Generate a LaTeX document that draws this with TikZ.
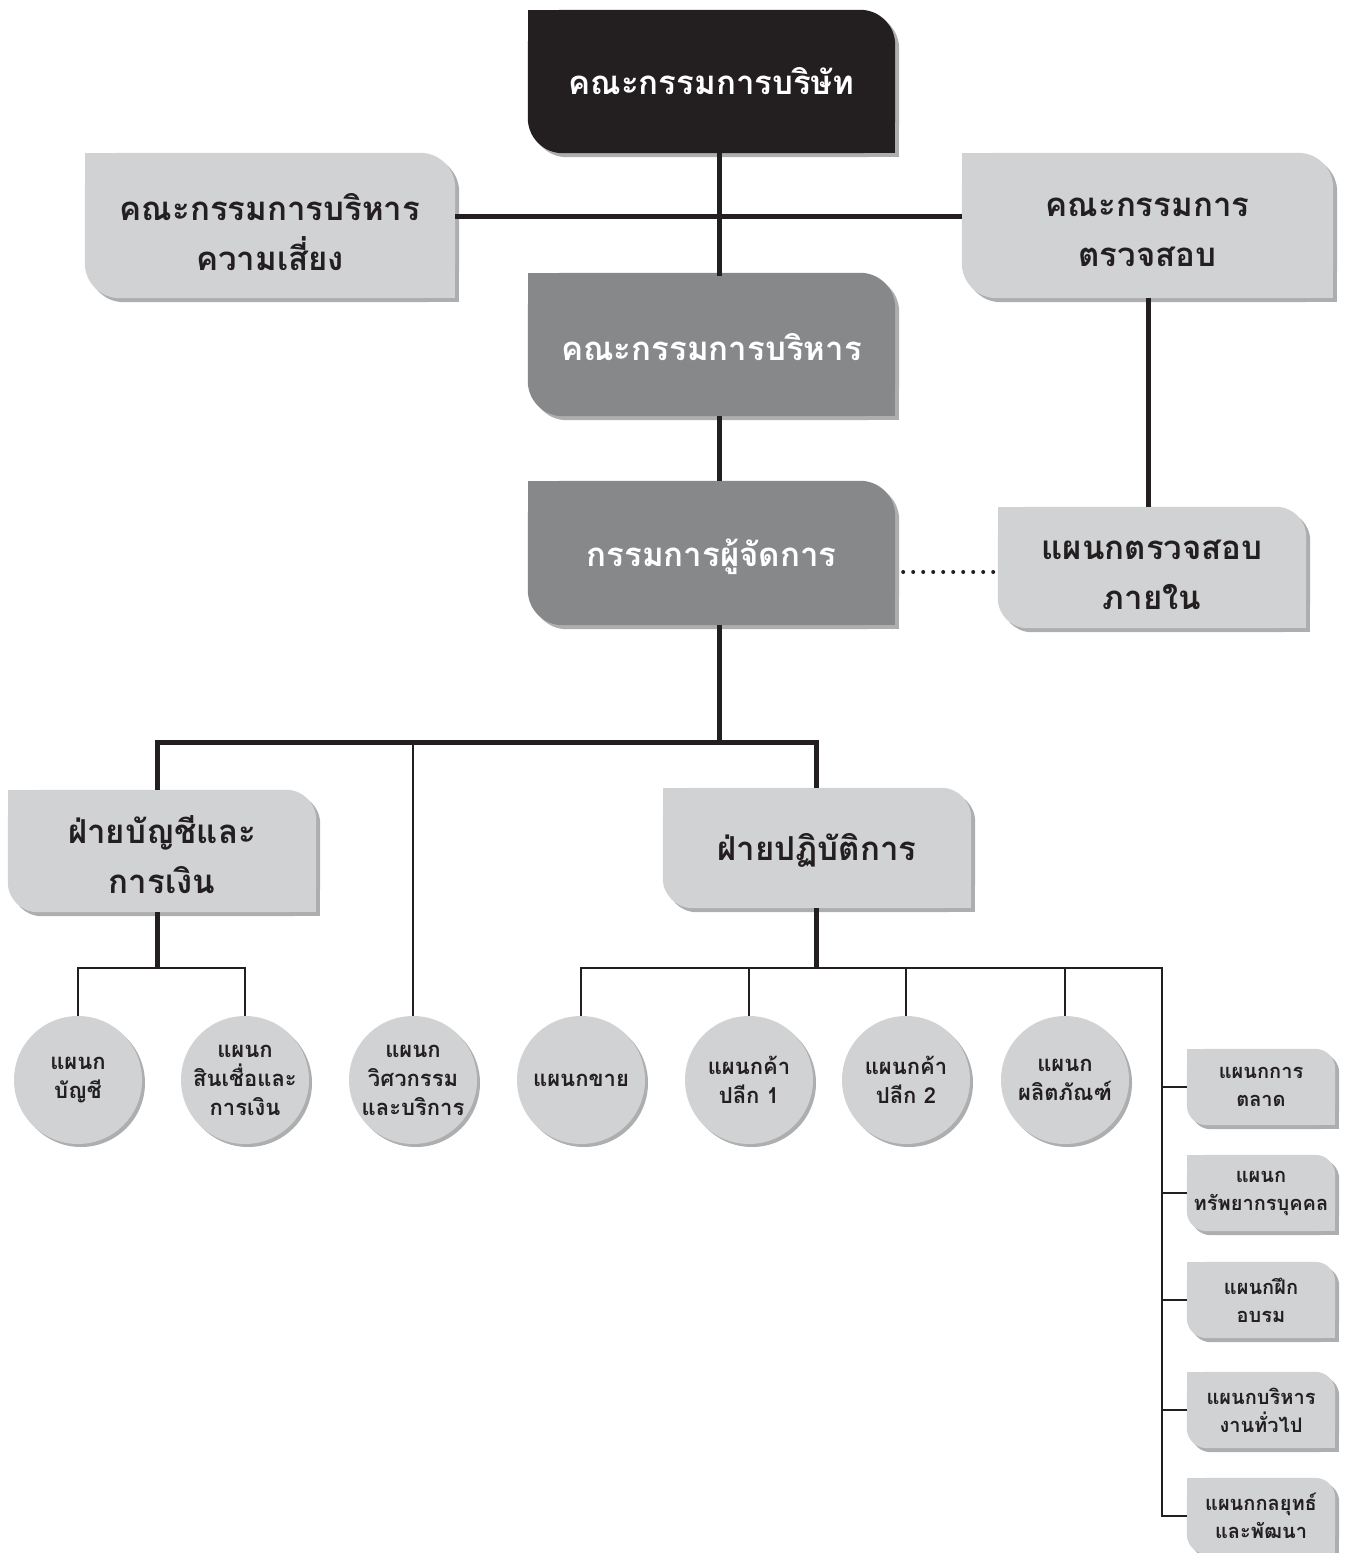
\documentclass[tikz,border=0pt]{standalone}
\usepackage{fontspec}
\newfontfamily\thai[Script=Thai]{Loma}
\usetikzlibrary{calc}
\definecolor{blk}{HTML}{231F20}
\definecolor{dgray}{HTML}{87888A}
\definecolor{lgray}{HTML}{D1D2D4}
\definecolor{shd}{HTML}{ADAEB0}
\pgfdeclarelayer{bg}
\pgfsetlayers{bg,main}
% background of a box: rounded top-right and bottom-left corners, with shadow
% #1 node, #2 colour, #3 corner radius, #4 upward offset of the box relative to the node
\newcommand\boxbg[4]{%
  \begin{pgfonlayer}{bg}
    \fill[shd,rounded corners=#3pt] ([shift={(4,4-#4)}]#1.north west) rectangle ([shift={(4,4-#4)}]#1.south east);
    \fill[shd] ([shift={(4,4-#4)}]#1.north west) rectangle ++(#3,#3);
    \fill[shd] ([shift={(4,4-#4)}]#1.south east) rectangle ++(-#3,-#3);
    \fill[#2,rounded corners=#3pt] ([yshift=#4pt]#1.north west) rectangle ([yshift=#4pt]#1.south east);
    \fill[#2] ([yshift=#4pt]#1.north west) rectangle ++(#3,#3);
    \fill[#2] ([yshift=#4pt]#1.south east) rectangle ++(-#3,-#3);
  \end{pgfonlayer}}
\newcommand\circbg[1]{%
  \begin{pgfonlayer}{bg}
    \fill[shd] ([shift={(3,3)}]#1.center) circle (64pt);
    \fill[lgray] (#1.center) circle (64pt);
  \end{pgfonlayer}}
\tikzset{
  bigtxt/.style={inner sep=0pt, align=center, font=\thai\bfseries\fontsize{33}{50}\selectfont},
  midtxt/.style={inner sep=0pt, align=center, font=\thai\bfseries\fontsize{22}{29}\selectfont},
  smalltxt/.style={inner sep=0pt, align=center, font=\thai\bfseries\fontsize{20}{28}\selectfont},
  heavy/.style={draw=blk, line width=5pt},
  lite/.style={draw=blk, line width=2pt},
  dotline/.style={draw=blk, line width=4pt, line cap=round, dash pattern=on 0pt off 10pt},
}
\begin{document}
\begin{tikzpicture}[x=1pt,y=-1pt]
\useasboundingbox (0,0) rectangle (1346,1553);
% main boxes (node centre = text centre; box drawn with an offset)
\node[bigtxt, text=white, minimum width=367pt, minimum height=143pt] (top) at (711.5,81.5) {คณะกรรมการบริษัท};
\boxbg{top}{blk}{35}{0}
\node[bigtxt, text=blk, minimum width=370pt, minimum height=145pt] (risk) at (270,232.5) {คณะกรรมการบริหาร\\ความเสี่ยง};
\boxbg{risk}{lgray}{35}{7}
\node[bigtxt, text=blk, minimum width=371pt, minimum height=145pt] (audit) at (1147.5,232.5) {คณะกรรมการ\\ตรวจสอบ};
\boxbg{audit}{lgray}{35}{7}
\node[bigtxt, text=white, minimum width=367pt, minimum height=143pt] (exec) at (711.5,347.5) {คณะกรรมการบริหาร};
\boxbg{exec}{dgray}{35}{3}
\node[bigtxt, text=white, minimum width=367pt, minimum height=144pt] (md) at (711.5,557) {กรรมการผู้จัดการ};
\boxbg{md}{dgray}{35}{4}
\node[bigtxt, text=blk, minimum width=308pt, minimum height=121pt] (ia) at (1152,574.5) {แผนกตรวจสอบ\\ภายใน};
\boxbg{ia}{lgray}{30}{7}
\node[bigtxt, text=blk, minimum width=308pt, minimum height=122pt] (fin) at (162,855) {ฝ่ายบัญชีและ\\การเงิน};
\boxbg{fin}{lgray}{30}{4}
\node[bigtxt, text=blk, minimum width=308pt, minimum height=120pt] (ops) at (817,850) {ฝ่ายปฏิบัติการ};
\boxbg{ops}{lgray}{30}{2}
% circles
\node[midtxt, text=blk, minimum size=128pt, circle] (c1) at (78,1080) {แผนก\\บัญชี};
\circbg{c1}
\node[midtxt, text=blk, minimum size=128pt, circle] (c2) at (245,1080) {แผนก\\สินเชื่อและ\\การเงิน};
\circbg{c2}
\node[midtxt, text=blk, minimum size=128pt, circle] (c3) at (413,1080) {แผนก\\วิศวกรรม\\และบริการ};
\circbg{c3}
\node[midtxt, text=blk, minimum size=128pt, circle] (c4) at (581,1080) {แผนกขาย};
\circbg{c4}
\node[midtxt, text=blk, minimum size=128pt, circle] (c5) at (749,1080) {แผนกค้า\\ปลีก 1};
\circbg{c5}
\node[midtxt, text=blk, minimum size=128pt, circle] (c6) at (906,1080) {แผนกค้า\\ปลีก 2};
\circbg{c6}
\node[midtxt, text=blk, minimum size=128pt, circle] (c7) at (1065,1080) {แผนก\\ผลิตภัณฑ์};
\circbg{c7}
% right column boxes
\node[smalltxt, text=blk, minimum width=148pt, minimum height=76pt] (r1) at (1261,1087) {แผนกการ\\ตลาด};
\boxbg{r1}{lgray}{20}{0}
\node[smalltxt, text=blk, minimum width=148pt, minimum height=76pt] (r2) at (1261,1193) {แผนก\\ทรัพยากรบุคคล};
\boxbg{r2}{lgray}{20}{0}
\node[smalltxt, text=blk, minimum width=148pt, minimum height=76pt] (r3) at (1261,1300) {แผนกฝึก\\อบรม};
\boxbg{r3}{lgray}{20}{0}
\node[smalltxt, text=blk, minimum width=148pt, minimum height=76pt] (r4) at (1261,1410) {แผนกบริหาร\\งานทั่วไป};
\boxbg{r4}{lgray}{20}{0}
\node[smalltxt, text=blk, minimum width=148pt, minimum height=76pt] (r5) at (1261,1516) {แผนกกลยุทธ์\\และพัฒนา};
\boxbg{r5}{lgray}{20}{0}
% guide coordinates
\coordinate (spine) at (719,0);
\coordinate (hy) at (0,216);
\coordinate (ax) at (1148,0);
\coordinate (dy) at (0,572);
\coordinate (b1) at (719,742);
\coordinate (b2) at (0,968);
\coordinate (fx) at (157,0);
\coordinate (ox) at (816,0);
\coordinate (rx) at (1162,0);
\coordinate (yExecB) at (0,416);
\coordinate (yMdT) at (0,481);
\coordinate (yMdB) at (0,625);
\coordinate (yAudB) at (0,298);
\coordinate (yIaT) at (0,507);
\coordinate (yFinT) at (0,790);
\coordinate (yFinB) at (0,912);
\coordinate (yOpsT) at (0,788);
\coordinate (yOpsB) at (0,908);
% connectors
\draw[heavy] (top.south -| spine) -- (exec.north -| spine);
\draw[heavy] (risk.east |- hy) -- (audit.west |- hy);
\draw[heavy] (spine |- yExecB) -- (spine |- yMdT);
\draw[heavy] (ax |- yAudB) -- (ax |- yIaT);
\draw[dotline] ([xshift=8pt]md.east |- dy) -- ([xshift=-4pt]ia.west |- dy);
\draw[heavy] (spine |- yMdB) -- (b1);
\draw[heavy, line join=miter] (fx |- yFinT) -- (fx |- b1) -- (ox |- b1) -- (ox |- yOpsT);
\draw[lite] (c3.north |- b1) -- (c3.north);
\draw[heavy] (fx |- yFinB) -- (fx |- b2);
\draw[lite, line join=miter] (c1.north) -- (c1.north |- b2) -- (c2.north |- b2) -- (c2.north);
\draw[heavy] (ox |- yOpsB) -- (ox |- b2);
\draw[lite, line join=miter] (c4.north) -- (c4.north |- b2) -- (rx |- b2) -- (rx |- r5) -- (r5.west);
\draw[lite] (c5.north |- b2) -- (c5.north);
\draw[lite] (c6.north |- b2) -- (c6.north);
\draw[lite] (c7.north |- b2) -- (c7.north);
\draw[lite] (rx |- r1) -- (r1.west);
\draw[lite] (rx |- r2) -- (r2.west);
\draw[lite] (rx |- r3) -- (r3.west);
\draw[lite] (rx |- r4) -- (r4.west);
\end{tikzpicture}
\end{document}
